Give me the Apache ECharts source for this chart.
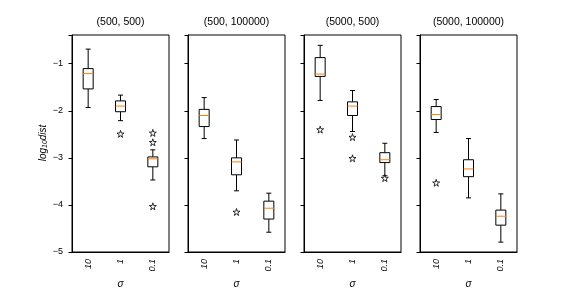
<!DOCTYPE html>
<html><head><meta charset="utf-8">
<script src="https://cdn.jsdelivr.net/npm/echarts@6/dist/echarts.min.js"></script>
<style>html,body{margin:0;padding:0;background:#fff}#c{width:576px;height:288px}</style>
</head><body><div id="c"></div>
<script>
const categories = ['10', '1', '0.1'];
const titles = ['(500, 500)', '(500, 100000)', '(5000, 500)', '(5000, 100000)'];
const yTicks = [-5, -4, -3, -2, -1];
// [low whisker, Q1, median, Q3, high whisker] per category
const box1 = [[-1.93,-1.535,-1.21,-1.104,-0.69],[-2.21,-2.02,-1.90,-1.79,-1.667],[-3.47,-3.19,-3.02,-2.98,-2.83]];
const out1 = [[1,-2.49],[2,-2.47],[2,-2.67],[2,-4.03]];
const box2 = [[-2.59,-2.335,-2.10,-1.97,-1.72],[-3.70,-3.36,-3.085,-3.0,-2.62],[-4.58,-4.30,-4.07,-3.92,-3.75]];
const out2 = [[1,-4.15]];
const box3 = [[-1.78,-1.27,-1.22,-0.87,-0.61],[-2.44,-2.10,-1.90,-1.81,-1.57],[-3.38,-3.10,-3.04,-2.89,-2.69]];
const out3 = [[0,-2.40],[1,-2.56],[1,-3.01],[2,-3.43]];
const box4 = [[-2.46,-2.185,-2.08,-1.91,-1.76],[-3.85,-3.40,-3.235,-3.04,-2.59],[-4.79,-4.43,-4.24,-4.11,-3.765]];
const out4 = [[0,-3.53]];

const boxes = [box1, box2, box3, box4];
const outs = [out1, out2, out3, out4];
const FONT = 'Liberation Sans';
const star = 'path://M50,0 L61,35 L98,35 L68,57 L79,91 L50,70 L21,91 L32,57 L2,35 L39,35 Z';

const lefts = [72, 188, 304, 420];
const grids = [], xAxes = [], yAxes = [], series = [], graphics = [];
lefts.forEach((l, i) => {
  grids.push({left: l, top: 35, width: 97, height: 217, show: true, borderColor: '#000', borderWidth: 1,
    backgroundColor: 'transparent', containLabel: false, outerBoundsMode: 'none'});
  xAxes.push({type: 'category', gridIndex: i, data: categories, boundaryGap: true,
    name: 'σ', nameLocation: 'middle', nameGap: 24,
    nameTextStyle: {fontFamily: FONT, fontSize: 10, fontStyle: 'italic', color: '#000'},
    axisLine: {lineStyle: {color: '#000', width: 1}},
    axisTick: {alignWithLabel: true, length: 3.5, lineStyle: {color: '#000'}},
    axisLabel: {rotate: 90, fontFamily: FONT, fontSize: 9, fontStyle: 'italic', color: '#000', margin: 7},
    splitLine: {show: false}});
  yAxes.push({type: 'value', gridIndex: i, min: -5, max: -0.39, interval: 1,
    axisLine: {show: true, lineStyle: {color: '#000', width: 1}},
    axisTick: {show: true, length: 3.5, lineStyle: {color: '#000'}},
    axisLabel: {show: i === 0, fontFamily: FONT, fontSize: 9, color: '#000', margin: 9,
      formatter: v => yTicks.includes(v) ? String(v).replace('-', '\u2212') : ''},
    splitLine: {show: false}});
  graphics.push({type: 'text', x: l + 48.5, y: 22, style: {text: titles[i], font: '10.5px ' + FONT, fill: '#000', align: 'center', verticalAlign: 'middle'}});
  series.push({type: 'custom', xAxisIndex: i, yAxisIndex: i,
    data: boxes[i].map((b, k) => [k].concat(b)),
    renderItem: function (params, api) {
      const k = api.value(0);
      const lo = api.coord([k, api.value(1)]), q1 = api.coord([k, api.value(2)]);
      const md = api.coord([k, api.value(3)]), q3 = api.coord([k, api.value(4)]);
      const hi = api.coord([k, api.value(5)]);
      const x = lo[0], hw = 5, cw = 2.5;
      const st = {stroke: '#000', lineWidth: 1, fill: null};
      return {type: 'group', children: [
        {type: 'line', shape: {x1: x, y1: q1[1], x2: x, y2: lo[1]}, style: st},
        {type: 'line', shape: {x1: x, y1: q3[1], x2: x, y2: hi[1]}, style: st},
        {type: 'line', shape: {x1: x - cw, y1: lo[1], x2: x + cw, y2: lo[1]}, style: st},
        {type: 'line', shape: {x1: x - cw, y1: hi[1], x2: x + cw, y2: hi[1]}, style: st},
        {type: 'rect', shape: {x: x - hw, y: q3[1], width: 2 * hw, height: q1[1] - q3[1]}, style: {stroke: '#000', lineWidth: 1, fill: '#fff'}},
        {type: 'line', shape: {x1: x - hw, y1: md[1], x2: x + hw, y2: md[1]}, style: {stroke: '#ff7f0e', lineWidth: 1}}
      ]};
    }});
  series.push({type: 'scatter', xAxisIndex: i, yAxisIndex: i, data: outs[i],
    symbol: star, symbolSize: 7, itemStyle: {color: '#fff', borderColor: '#000', borderWidth: 1}, z: 5});
});
graphics.push({type: 'text', x: 43, y: 143, rotation: Math.PI / 2,
  style: {rich: {a: {font: 'italic 10px ' + FONT, fill: '#000'}, s: {font: 'italic 7px ' + FONT, fill: '#000', padding: [5, 0, 0, 0]}},
    text: '{a|log}{s|10}{a|dist}', align: 'center', verticalAlign: 'middle'}});

const chart = echarts.init(document.getElementById('c'), null, {renderer: 'canvas'});
chart.setOption({animation: false, grid: grids, xAxis: xAxes, yAxis: yAxes, series: series, graphic: graphics});
</script></body></html>
